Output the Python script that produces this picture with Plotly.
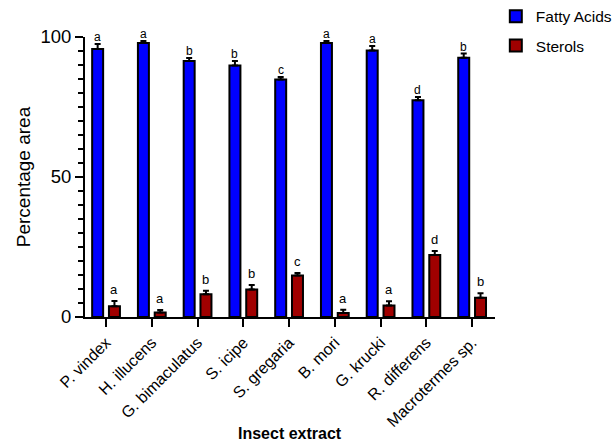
import plotly.graph_objects as go

categories = ["P. vindex", "H. illucens", "G. bimaculatus", "S. icipe", "S. gregaria",
              "B. mori", "G. krucki", "R. differens", "Macrotermes sp."]
fatty_acids = [95.7, 97.9, 91.4, 89.8, 84.8, 97.9, 95.2, 77.4, 92.6]
fatty_err = [1.8, 0.7, 1.1, 1.6, 0.9, 0.7, 1.6, 1.2, 1.5]
sterols = [3.8, 1.6, 8.1, 9.8, 14.8, 1.4, 4.1, 22.1, 6.9]
sterols_err = [1.9, 0.9, 1.3, 1.6, 0.9, 1.2, 1.5, 1.5, 1.6]
fa_letters = ["a", "a", "b", "b", "c", "a", "a", "d", "b"]
st_letters = ["a", "a", "b", "b", "c", "a", "a", "d", "b"]

FONT = "Arial, Liberation Sans, sans-serif"

fig = go.Figure()
fig.add_trace(go.Bar(
    x=categories, y=fatty_acids, name="Fatty Acids", legendgroup="fa",
    marker=dict(color="#0000FF", line=dict(color="black", width=2)),
    error_y=dict(type="data", array=fatty_err, arrayminus=[0] * len(fatty_err),
                 symmetric=False, color="black", thickness=2, width=3),
))
fig.add_trace(go.Bar(
    x=categories, y=sterols, name="Sterols", legendgroup="st",
    marker=dict(color="#A00000", line=dict(color="black", width=2)),
    error_y=dict(type="data", array=sterols_err, arrayminus=[0] * len(sterols_err),
                 symmetric=False, color="black", thickness=2, width=3),
))

annotations = []
for i, c in enumerate(categories):
    annotations.append(dict(x=c, y=fatty_acids[i] + fatty_err[i], text=fa_letters[i],
                            xref="x", yref="y", showarrow=False, xshift=-8.4, yshift=-2,
                            yanchor="bottom", font=dict(family=FONT, size=12, color="black")))
    annotations.append(dict(x=c, y=sterols[i] + sterols_err[i], text=st_letters[i],
                            xref="x", yref="y", showarrow=False, xshift=8.4, yshift=2,
                            yanchor="bottom", font=dict(family=FONT, size=13, color="black")))
annotations.append(dict(x=0.5, y=(441 - 124 - 433) / (441 - 37 - 124), xref="paper", yref="paper",
                        text="<b>Insect extract</b>",
                        showarrow=False, yanchor="middle", xanchor="center",
                        font=dict(family=FONT, size=16, color="black")))

fig.update_layout(
    width=616, height=441,
    margin=dict(l=85, r=121, t=37, b=124, pad=0, autoexpand=False),
    paper_bgcolor="white", plot_bgcolor="white",
    barmode="group", bargap=0.266, bargroupgap=0.346,
    font=dict(family=FONT, color="black"),
    showlegend=True,
    legend=dict(x=1.002, y=1.133, xanchor="left", yanchor="top",
                font=dict(family=FONT, size=15.5, color="black"),
                traceorder="grouped", tracegroupgap=6, itemwidth=30),
    annotations=annotations,
    xaxis=dict(range=[-0.46, 8.5], showline=True, linecolor="black", linewidth=2,
               ticks="outside", ticklen=8, tickwidth=2, tickcolor="black",
               tickangle=-45, tickfont=dict(family=FONT, size=16, color="black"),
               showgrid=False, zeroline=False),
    yaxis=dict(range=[0, 100], showline=True, linecolor="black", linewidth=2,
               ticks="outside", ticklen=8, tickwidth=2, tickcolor="black",
               tickvals=[0, 50, 100], tickfont=dict(family=FONT, size=18.5, color="black"),
               minor=dict(dtick=5, ticks="outside", ticklen=5, tickwidth=2, tickcolor="black", showgrid=False),
               showgrid=False, zeroline=False,
               title=dict(text="Percentage area", font=dict(family=FONT, size=19), standoff=5)),
)

fig.write_html("out.html")
